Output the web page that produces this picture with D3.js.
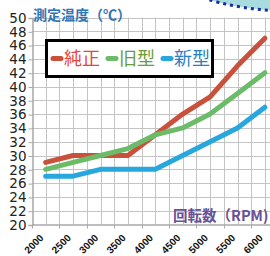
<!DOCTYPE html>
<html><head><meta charset="utf-8">
<script src="https://cdn.jsdelivr.net/npm/d3@7"></script>
<style>
html,body{margin:0;padding:0;background:#fff;overflow:hidden;}
svg{display:block;}
</style></head>
<body>
<svg id="c" width="270" height="256"></svg>
<script>
const categories = ["2000","2500","3000","3500","4000","4500","5000","5500","6000"];
const seriesNames = ["純正","旧型","新型"];
const junsei = [29, 30, 30, 30, 33, 36, 38.5, 43, 47];
const kyugata = [28, 29, 30, 31, 33, 34, 36, 39, 42];
const shingata = [27, 27, 28, 28, 28, 30, 32, 34, 37];
const yTicks = d3.range(20, 51, 2);
const yTitle = "測定温度（℃）";
const xTitle = "回転数（RPM)";

const lineColors = ["#c9503a", "#6cbb69", "#28a6de"];
const textColors = ["#e8453c", "#6a9c3c", "#2b80c2"];
const seriesData = [junsei, kyugata, shingata];

const svg = d3.select("#c");
const left = 32, step = 27.4;
const x = d3.scalePoint().domain(categories).range([left + step/2, left + step/2 + step*(categories.length-1)]);
const y = d3.scaleLinear().domain([20, 50]).range([224.5, 17.5]);
const right = left + step*categories.length;

svg.append("ellipse").attr("cx", 292).attr("cy", -40).attr("rx", 132).attr("ry", 51)
  .attr("fill", "#a9dcdf").attr("stroke", "#1c2d9c").attr("stroke-width", 3).attr("stroke-dasharray", "3,4");

const g = svg.append("g");
const vLines = [];
categories.forEach(c => { vLines.push(x(c) - step/2); vLines.push(x(c)); });
vLines.push(right);
g.selectAll(".vg").data(vLines.slice(1)).join("line")
  .attr("x1", d => Math.round(d)+0.5).attr("x2", d => Math.round(d)+0.5)
  .attr("y1", y(50)).attr("y2", y(20))
  .attr("stroke", "#c4c4c4").attr("stroke-width", 1);
g.selectAll(".hg").data(yTicks.slice(1)).join("line")
  .attr("x1", left).attr("x2", right)
  .attr("y1", d => Math.round(y(d))+0.5).attr("y2", d => Math.round(y(d))+0.5)
  .attr("stroke", "#c4c4c4").attr("stroke-width", 1);

const ya = svg.append("g").attr("transform", `translate(${left+0.5},0.5)`)
  .call(d3.axisLeft(y).tickValues(yTicks).tickSize(4).tickPadding(2).tickFormat(d3.format("d")));
ya.select(".domain").attr("stroke", "#a8a8a8").attr("stroke-width", 1.5);
ya.selectAll(".tick line").attr("stroke", "#a8a8a8");
ya.selectAll(".tick text").attr("font-family", "DejaVu Sans").attr("font-size", "13.5px").attr("fill", "#222");

svg.append("line").attr("x1", left).attr("x2", right).attr("y1", y(20)+0.5).attr("y2", y(20)+0.5)
  .attr("stroke", "#a8a8a8").attr("stroke-width", 1.5);
svg.selectAll(".xt").data(categories).join("line")
  .attr("x1", d => Math.round(x(d) - step/2)+0.5).attr("x2", d => Math.round(x(d) - step/2)+0.5)
  .attr("y1", y(20)).attr("y2", y(20)+4).attr("stroke", "#a8a8a8");
const xa = svg.append("g").attr("transform", `translate(0,${y(20)})`)
  .call(d3.axisBottom(x).tickSize(0).tickPadding(0));
xa.select(".domain").remove();
xa.selectAll(".tick text")
  .attr("font-family", "Liberation Sans").attr("font-weight", "bold").attr("font-size", "10px").attr("fill", "#111")
  .attr("text-anchor", "end").attr("dy", null).attr("y", null)
  .attr("transform", "translate(-2,14) rotate(-45)");

const line = d3.line().x((d,i) => x(categories[i])).y(d => y(d));
seriesData.forEach((s, k) => {
  svg.append("path").datum(s).attr("d", line).attr("fill", "none")
    .attr("stroke", lineColors[k]).attr("stroke-width", 5)
    .attr("stroke-linejoin", "round").attr("stroke-linecap", "round");
});

svg.append("text").attr("x", 33).attr("y", 20).text(yTitle)
  .attr("font-family", "Noto Sans CJK JP").attr("font-weight", "bold").attr("font-size", "14px").attr("fill", "#2e74b5");
svg.append("text").attr("x", 173).attr("y", 221).text(xTitle)
  .attr("font-family", "Noto Sans CJK JP").attr("font-weight", "bold").attr("font-size", "14.5px").attr("fill", "#6a5096");

const lg = svg.append("g");
lg.append("rect").attr("x", 46.5).attr("y", 40.5).attr("width", 166).attr("height", 36)
  .attr("fill", "#fff").attr("stroke", "#000").attr("stroke-width", 3);
const legX = [51, 106, 161];
seriesNames.forEach((n, k) => {
  lg.append("line").attr("x1", legX[k]+2).attr("x2", legX[k]+10).attr("y1", 58.5).attr("y2", 58.5)
    .attr("stroke", lineColors[k]).attr("stroke-width", 5).attr("stroke-linecap", "round");
  lg.append("text").attr("x", legX[k]+13).attr("y", 65).text(n)
    .attr("font-family", "Noto Sans CJK JP").attr("font-size", "18px").attr("fill", textColors[k]);
});
</script>
</body></html>
